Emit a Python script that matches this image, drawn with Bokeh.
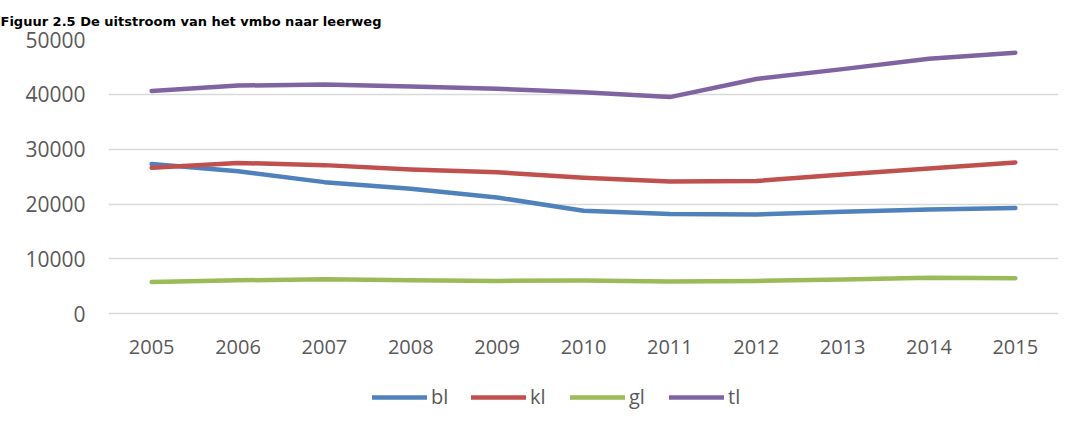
from bokeh.plotting import figure
from bokeh.models import Legend, LegendItem, FixedTicker, Title
from bokeh.embed import file_html
from bokeh.resources import INLINE

years = ["2005", "2006", "2007", "2008", "2009", "2010", "2011", "2012", "2013", "2014", "2015"]
bl = [27300, 26000, 24000, 22800, 21200, 18800, 18200, 18100, 18600, 19000, 19300]
kl = [26600, 27500, 27100, 26300, 25800, 24800, 24100, 24200, 25400, 26500, 27600]
gl = [5800, 6100, 6300, 6100, 6000, 6050, 5900, 6000, 6250, 6550, 6500]
tl = [40600, 41600, 41800, 41450, 41000, 40400, 39500, 42800, 44600, 46500, 47600]
series_names = ["bl", "kl", "gl", "tl"]
colors = ["#4f81bd", "#c0504d", "#9bbb59", "#8064a2"]
y_ticks = [0, 10000, 20000, 30000, 40000, 50000]

W, H = 1075, 428
TOP, ZERO_Y = 38, 313          # pixel rows of the 50000 and 0 gridlines
LEFT, RIGHT = 108, 1058
y_max = 50000
y_min = -(H - ZERO_Y) / (ZERO_Y - TOP) * y_max   # frame runs to the canvas bottom

p = figure(width=W, height=H, output_backend="svg", toolbar_location=None,
           x_range=(-0.5, len(years) - 0.5), y_range=(y_min, y_max),
           min_border_left=LEFT, min_border_right=W - RIGHT, min_border_top=TOP, min_border_bottom=0)
p.outline_line_color = None
p.background_fill_color = "white"
p.border_fill_color = "white"

p.title = Title(text="Figuur 2.5 De uitstroom van het vmbo naar leerweg",
                text_font="DejaVu Sans", text_font_style="bold", text_font_size="13px",
                text_color="#000000", align="left", offset=-LEFT, standoff=22)

xs = list(range(len(years)))
renderers = []
for name, vals, c in zip(series_names, [bl, kl, gl, tl], colors):
    r = p.line(xs, vals, line_color=c, line_width=4.5, line_cap="round", line_join="round")
    renderers.append((name, r))

p.xaxis.ticker = FixedTicker(ticks=xs)
p.xaxis.major_label_overrides = {i: y for i, y in enumerate(years)}
p.xaxis.fixed_location = 0
p.yaxis.ticker = FixedTicker(ticks=y_ticks)
for ax in (p.xaxis[0], p.yaxis[0]):
    ax.axis_line_color = None
    ax.major_tick_line_color = None
    ax.minor_tick_line_color = None
    ax.major_label_text_font = "Open Sans"
    ax.major_label_text_font_size = "20px"
    ax.major_label_text_color = "#595959"
p.yaxis.major_label_text_font_size = "21px"
p.yaxis.major_label_standoff = 17
p.xaxis.major_label_standoff = 20
p.yaxis[0].formatter.use_scientific = False

p.xgrid.grid_line_color = None
p.ygrid.ticker = FixedTicker(ticks=y_ticks)
p.ygrid.grid_line_color = "#d9d9d9"
p.ygrid.grid_line_width = 1.5

legend = Legend(items=[LegendItem(label=n, renderers=[r]) for n, r in renderers],
                orientation="horizontal", location=(264, 18),
                glyph_width=55, glyph_height=20, label_standoff=4, spacing=20,
                padding=4, margin=0, border_line_color=None, background_fill_alpha=0,
                label_text_font="Open Sans", label_text_font_size="20px",
                label_text_color="#595959")
p.add_layout(legend, "center")

open("out.html", "w").write(file_html(p, INLINE))
